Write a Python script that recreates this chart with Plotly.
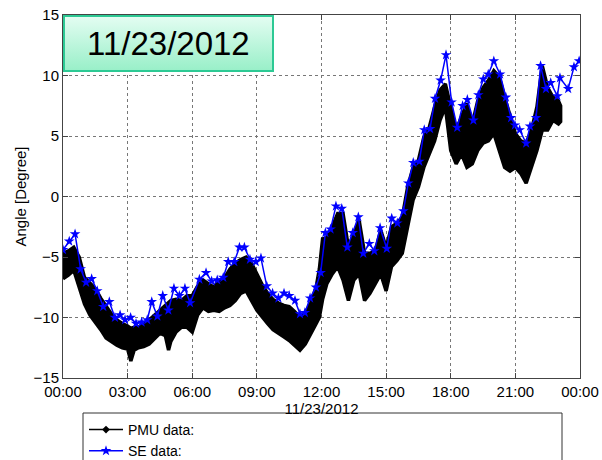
import base64
import plotly.graph_objects as go

# ---------------- data ----------------
# PMU data: dense band, given as upper / lower envelope (hours, degrees)
pmu_hours = [0.0, 0.25, 0.5, 0.75, 1.0, 1.25, 1.5, 1.75, 2.0, 2.25, 2.5, 2.75, 3.0, 3.15, 3.3, 3.5,
             3.75, 4.0, 4.25, 4.5, 4.75, 4.9, 5.0, 5.25, 5.5, 5.75, 6.0, 6.25, 6.5, 6.75, 7.0, 7.25,
             7.5, 7.75, 8.0, 8.25, 8.5, 8.75, 9.0, 9.25, 9.5, 9.75, 10.0, 10.25, 10.5, 10.75, 11.0,
             11.25, 11.5, 11.75, 11.9, 12.05, 12.25, 12.5, 12.75, 13.0, 13.25, 13.5, 13.75, 14.0,
             14.25, 14.5, 14.75, 15.0, 15.25, 15.5, 15.75, 16.0, 16.25, 16.5, 16.75, 17.0, 17.25,
             17.5, 17.75, 18.0, 18.25, 18.5, 18.75, 19.0, 19.25, 19.5, 19.75, 20.0, 20.25, 20.5,
             20.75, 21.0, 21.25, 21.5, 21.75, 22.0, 22.25, 22.5, 22.75, 23.0, 23.1]
pmu_upper = [-4.7, -4.5, -4.2, -5.0, -6.7, -7.2, -7.6, -8.4, -9.1, -9.7, -10.2, -10.5, -10.7, -10.9,
             -10.8, -10.8, -10.6, -10.2, -9.8, -9.4, -9.0, -8.8, -8.6, -8.5, -8.6, -8.2, -8.2, -7.4,
             -6.9, -7.2, -7.5, -7.0, -6.7, -6.0, -5.5, -5.2, -5.0, -5.5, -6.4, -7.3, -8.0, -8.5,
             -8.8, -9.0, -9.1, -9.5, -10.0, -9.6, -8.8, -7.5, -6.0, -3.5, -3.4, -2.5, -1.4, -1.4,
             -4.2, -3.1, -2.0, -4.7, -4.7, -4.5, -2.8, -4.2, -2.5, -2.2, -1.7, 0.8, 2.4, 3.0, 4.9,
             5.7, 7.4, 8.8, 9.3, 7.4, 5.5, 6.6, 7.7, 6.0, 7.9, 9.0, 9.6, 10.4, 9.9, 8.2, 6.6, 5.2,
             4.6, 4.4, 5.5, 7.4, 10.8, 9.0, 8.2, 7.9, 7.5]
pmu_lower = [-6.8, -6.5, -6.1, -7.4, -8.9, -9.8, -10.4, -11.0, -11.7, -12.0, -12.3, -12.5, -12.6,
             -13.6, -12.7, -12.5, -12.4, -12.2, -11.8, -11.3, -11.5, -12.7, -12.0, -11.2, -10.8,
             -10.8, -11.2, -9.8, -9.2, -9.5, -9.4, -9.5, -9.2, -9.0, -8.6, -8.0, -7.8, -8.6, -9.4,
             -10.0, -10.5, -11.0, -11.3, -11.6, -11.9, -12.3, -12.7, -12.2, -11.3, -10.5, -10.0,
             -8.5, -7.2, -6.4, -5.8, -6.9, -8.6, -6.9, -6.4, -8.6, -8.0, -7.2, -6.4, -7.8, -5.8,
             -5.3, -4.7, -2.5, -0.3, 0.8, 2.4, 3.5, 4.6, 6.3, 7.4, 3.8, 2.7, 3.5, 2.4, 2.7, 3.8,
             4.4, 4.6, 5.2, 3.8, 2.4, 2.1, 2.4, 1.9, 1.1, 2.4, 3.8, 5.5, 5.5, 6.3, 6.0, 6.2]

# SE data (hours, degrees)
se_hours = [0.0, 0.29, 0.56, 0.82, 1.07, 1.33, 1.59, 1.87, 2.15, 2.41, 2.65, 2.88, 3.14, 3.39,
            3.65, 3.91, 4.12, 4.38, 4.63, 4.89, 5.15, 5.4, 5.66, 5.9, 6.33, 6.64, 6.9, 7.16, 7.44,
            7.67, 7.95, 8.19, 8.42, 8.68, 8.95, 9.19, 9.46, 9.73, 10.0, 10.26, 10.5, 10.77, 11.0,
            11.23, 11.47, 11.74, 11.96, 12.18, 12.42, 12.67, 12.94, 13.2, 13.45, 13.71, 13.94,
            14.22, 14.45, 14.72, 15.03, 15.26, 15.52, 15.8, 16.03, 16.26, 16.54, 16.77, 17.04,
            17.27, 17.53, 17.78, 18.04, 18.3, 18.55, 18.77, 19.05, 19.28, 19.51, 19.74, 20.0,
            20.29, 20.56, 20.8, 20.98, 21.2, 21.5, 21.68, 21.96, 22.17, 22.42, 22.64, 22.95,
            23.07, 23.45, 23.72, 23.96]
se_values = [-4.4, -3.7, -3.1, -6.0, -7.1, -6.8, -7.8, -9.1, -8.7, -10.0, -9.8, -10.2, -10.0,
             -10.5, -10.4, -10.2, -8.7, -9.9, -8.2, -9.4, -7.6, -8.2, -7.6, -8.8, -6.85, -6.3,
             -7.0, -6.9, -6.7, -5.4, -5.4, -4.2, -4.2, -5.2, -5.4, -5.1, -7.4, -8.0, -8.4, -8.0,
             -8.2, -8.6, -9.7, -9.6, -8.4, -7.5, -6.3, -3.0, -2.7, -0.8, -1.0, -4.2, -3.0, -1.7,
             -4.7, -3.9, -4.5, -2.6, -4.3, -1.8, -2.2, -1.2, 1.1, 2.8, 2.9, 5.5, 5.6, 8.1, 9.6,
             11.7, 7.8, 5.7, 7.5, 8.0, 6.3, 8.4, 9.7, 10.1, 11.2, 10.1, 8.2, 6.5, 5.9, 5.5, 4.4,
             5.8, 6.5, 10.8, 8.9, 9.4, 8.3, 9.8, 8.9, 10.7, 11.2]

x_tick_vals = [0, 3, 6, 9, 12, 15, 18, 21, 24]
x_tick_text = ["00:00", "03:00", "06:00", "09:00", "12:00", "15:00", "18:00", "21:00", "00:00"]
y_tick_vals = [-15, -10, -5, 0, 5, 10, 15]
date_label = "11/23/2012"

FONT = "Arial, Liberation Sans, sans-serif"

fig = go.Figure()

# PMU band polygon built from envelope arrays
band_x = pmu_hours + pmu_hours[::-1]
band_y = pmu_upper + pmu_lower[::-1]
fig.add_trace(go.Scatter(x=band_x, y=band_y, fill="toself", fillcolor="black",
                         mode="lines", line=dict(color="black", width=3.5),
                         showlegend=False, hoverinfo="skip"))
# legend proxy for PMU
fig.add_trace(go.Scatter(x=[None], y=[None], mode="lines+markers", name="PMU data:",
                         line=dict(color="black", width=1.5),
                         marker=dict(symbol="diamond", size=6, color="black")))
# SE data
fig.add_trace(go.Scatter(x=se_hours, y=se_values, mode="lines+markers", name="SE data:",
                         line=dict(color="#0000ff", width=1.5),
                         marker=dict(symbol="star", size=8, color="#0000ff")))

W, H = 602, 460
ML, MR, MT, MB = 63, 22, 15, 82
pw, ph = W - ML - MR, H - MT - MB

def px_x(p):
    return (p - ML) / pw

def px_y(p):
    return 1 - (p - MT) / ph

# gradient title box as svg image
svg = ("<svg xmlns='http://www.w3.org/2000/svg' width='211' height='57' viewBox='0 0 211 57'>"
       "<defs><linearGradient id='g' x1='0' y1='0' x2='0' y2='1'>"
       "<stop offset='0' stop-color='#e4fdf2'/><stop offset='1' stop-color='#98efc8'/>"
       "</linearGradient></defs>"
       "<rect x='1' y='1' width='209' height='55' fill='url(#g)' stroke='#2cc994' stroke-width='2'/>"
       "</svg>")
src = "data:image/svg+xml;base64," + base64.b64encode(svg.encode()).decode()

fig.update_layout(
    width=W, height=H,
    margin=dict(l=ML, r=MR, t=MT, b=MB, autoexpand=False),
    paper_bgcolor="white", plot_bgcolor="white",
    font=dict(family=FONT, size=15, color="black"),
    showlegend=True,
    legend=dict(x=px_x(84), y=px_y(414), xanchor="left", yanchor="top",
                bgcolor="rgba(0,0,0,0)", borderwidth=0,
                font=dict(family=FONT, size=14, color="black"),
                tracegroupgap=0, itemwidth=34),
    images=[dict(source=src, xref="paper", yref="paper", x=px_x(63), y=px_y(15),
                 sizex=(274 - 63) / pw, sizey=(72 - 15) / ph, xanchor="left", yanchor="top",
                 sizing="stretch", layer="above")],
    annotations=[dict(text=date_label, xref="paper", yref="paper", x=px_x(168), y=px_y(43.5),
                      showarrow=False, xanchor="center", yanchor="middle",
                      font=dict(family=FONT, size=33, color="black"))],
    shapes=[dict(type="rect", xref="paper", yref="paper", x0=px_x(83), x1=px_x(562),
                 y0=px_y(480), y1=px_y(413), line=dict(color="#333", width=1),
                 fillcolor="white", layer="below")],
)

fig.update_xaxes(range=[0, 24], tickvals=x_tick_vals, ticktext=x_tick_text,
                 showgrid=True, gridcolor="#777", griddash="dot", gridwidth=1,
                 showline=True, linecolor="#444", linewidth=1, mirror="ticks",
                 ticks="inside", ticklen=5, tickcolor="#444", zeroline=False,
                 tickfont=dict(size=15), automargin=False,
                 title=dict(text=date_label, font=dict(size=15), standoff=2))
fig.update_yaxes(range=[-15, 15], tickvals=y_tick_vals,
                 showgrid=True, gridcolor="#777", griddash="dot", gridwidth=1,
                 showline=True, linecolor="#444", linewidth=1, mirror="ticks",
                 ticks="inside", ticklen=5, tickcolor="#444", zeroline=False,
                 tickfont=dict(size=15), automargin=False,
                 title=dict(text="Angle [Degree]", font=dict(size=15), standoff=3))

fig.write_html("out.html", config={"displayModeBar": False},
               post_script="document.body.style.margin='0';document.body.style.overflow='hidden';")
